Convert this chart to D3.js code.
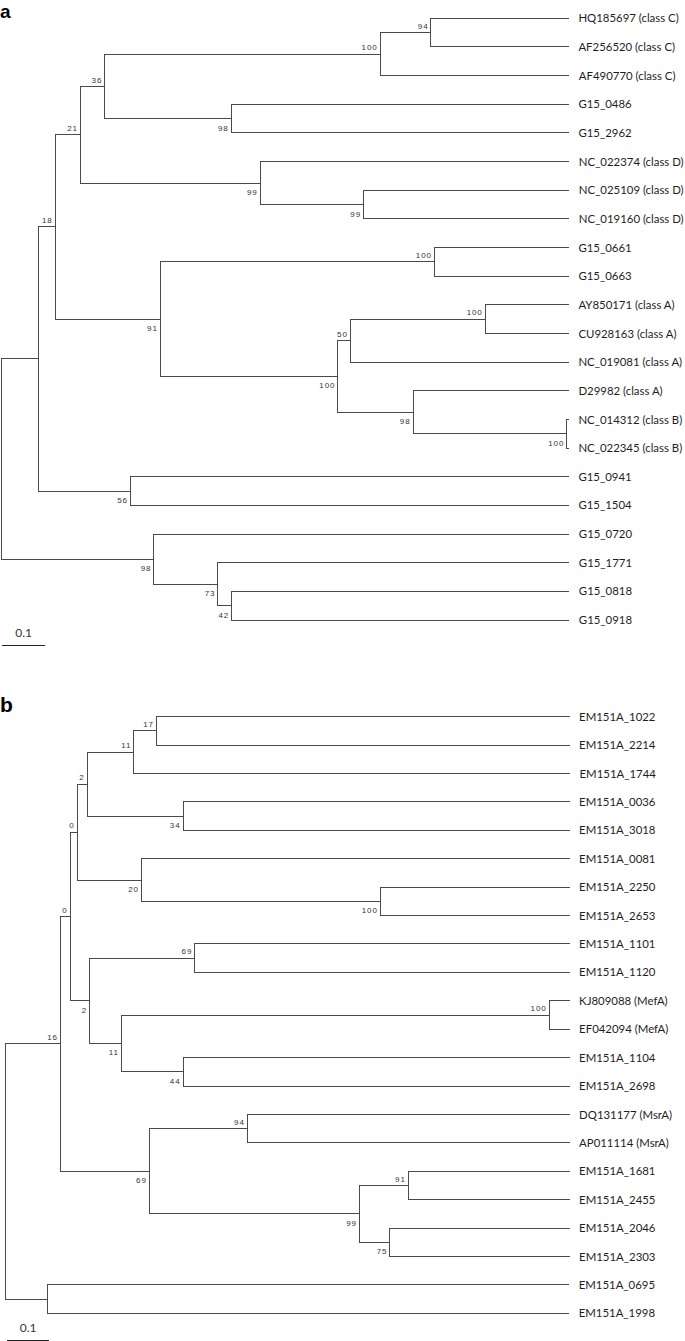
<!DOCTYPE html>
<html>
<head>
<meta charset="utf-8">
<script src="https://cdn.jsdelivr.net/npm/d3@7"></script>
<style>
  html, body { margin: 0; padding: 0; background: #fff; }
  svg { display: block; }
</style>
</head>
<body>
<svg id="chart" width="685" height="1341"></svg>
<script>
// ---- Tree a: [node id, parent id, branch length, bootstrap support] (pre-order, top to bottom)
const treeA = [
  ["rA", "", 0, ""],
  ["a0", "rA", 0.088, ""],
  ["a18", "a0", 0.039, "18"],
  ["a21", "a18", 0.059, "21"],
  ["a36", "a21", 0.057, "36"],
  ["a100c", "a36", 0.645, "100"],
  ["a94", "a100c", 0.119, "94"],
  ["HQ185697 (class C)", "a94", 0.323, ""],
  ["AF256520 (class C)", "a94", 0.323, ""],
  ["AF490770 (class C)", "a100c", 0.443, ""],
  ["a98g", "a36", 0.296, "98"],
  ["G15_0486", "a98g", 0.791, ""],
  ["G15_2962", "a98g", 0.791, ""],
  ["a99d", "a21", 0.421, "99"],
  ["NC_022374 (class D)", "a99d", 0.724, ""],
  ["a99e", "a99d", 0.242, "99"],
  ["NC_025109 (class D)", "a99e", 0.482, ""],
  ["NC_019160 (class D)", "a99e", 0.482, ""],
  ["a91", "a18", 0.246, "91"],
  ["a100g", "a91", 0.642, "100"],
  ["G15_0661", "a100g", 0.315, ""],
  ["G15_0663", "a100g", 0.315, ""],
  ["a100A", "a91", 0.416, "100"],
  ["a50", "a100A", 0.029, "50"],
  ["a100y", "a50", 0.316, "100"],
  ["AY850171 (class A)", "a100y", 0.196, ""],
  ["CU928163 (class A)", "a100y", 0.196, ""],
  ["NC_019081 (class A)", "a50", 0.512, ""],
  ["a98b", "a100A", 0.176, "98"],
  ["D29982 (class A)", "a98b", 0.365, ""],
  ["a100B", "a98b", 0.360, "100"],
  ["NC_014312 (class B)", "a100B", 0.005, ""],
  ["NC_022345 (class B)", "a100B", 0.005, ""],
  ["a56", "a0", 0.215, "56"],
  ["G15_0941", "a56", 1.027, ""],
  ["G15_1504", "a56", 1.027, ""],
  ["a98t", "rA", 0.358, "98"],
  ["G15_0720", "a98t", 0.973, ""],
  ["a73", "a98t", 0.150, "73"],
  ["G15_1771", "a73", 0.823, ""],
  ["a42", "a73", 0.032, "42"],
  ["G15_0818", "a42", 0.791, ""],
  ["G15_0918", "a42", 0.791, ""]
];

// ---- Tree b
const treeB = [
  ["rB", "", 0, ""],
  ["b16", "rB", 0.133, "16"],
  ["b0o", "b16", 0.023, "0"],
  ["b0i", "b0o", 0.017, "0"],
  ["b2", "b0i", 0.024, "2"],
  ["b11", "b2", 0.112, "11"],
  ["b17", "b11", 0.054, "17"],
  ["EM151A_1022", "b17", 0.991, ""],
  ["EM151A_2214", "b17", 0.991, ""],
  ["EM151A_1744", "b11", 1.046, ""],
  ["b34", "b2", 0.230, "34"],
  ["EM151A_0036", "b34", 0.927, ""],
  ["EM151A_3018", "b34", 0.927, ""],
  ["b20", "b0i", 0.154, "20"],
  ["EM151A_0081", "b20", 1.027, ""],
  ["b100a", "b20", 0.573, "100"],
  ["EM151A_2250", "b100a", 0.454, ""],
  ["EM151A_2653", "b100a", 0.454, ""],
  ["b2b", "b0o", 0.047, "2"],
  ["b69a", "b2b", 0.252, "69"],
  ["EM151A_1101", "b69a", 0.899, ""],
  ["EM151A_1120", "b69a", 0.899, ""],
  ["b11b", "b2b", 0.076, "11"],
  ["b100b", "b11b", 1.026, "100"],
  ["KJ809088 (MefA)", "b100b", 0.049, ""],
  ["EF042094 (MefA)", "b100b", 0.049, ""],
  ["b44", "b11b", 0.148, "44"],
  ["EM151A_1104", "b44", 0.927, ""],
  ["EM151A_2698", "b44", 0.927, ""],
  ["b69", "b16", 0.213, "69"],
  ["b94", "b69", 0.235, "94"],
  ["DQ131177 (MsrA)", "b94", 0.773, ""],
  ["AP011114 (MsrA)", "b94", 0.773, ""],
  ["b99", "b69", 0.504, "99"],
  ["b91", "b99", 0.117, "91"],
  ["EM151A_1681", "b91", 0.387, ""],
  ["EM151A_2455", "b91", 0.387, ""],
  ["b75", "b99", 0.073, "75"],
  ["EM151A_2046", "b75", 0.431, ""],
  ["EM151A_2303", "b75", 0.431, ""],
  ["bR", "rB", 0.101, ""],
  ["EM151A_0695", "bR", 1.252, ""],
  ["EM151A_1998", "bR", 1.252, ""]
];

const panelLetters = ["a", "b"];
const scaleBarValue = 0.1;
const scaleBarLabel = "0.1";

const svg = d3.select("#chart");
const LINE = "#4a4a4a";

function drawTree(rows, cfg) {
  const g = svg.append("g");
  const root = d3.stratify().id(d => d[0]).parentId(d => d[1] || null)(rows);
  root.eachBefore(n => { n.dist = n.parent ? n.parent.dist + n.data[2] : 0; });
  d3.cluster().size([1, 1]).separation(() => 1)(root);
  const leaves = root.leaves();
  const y = d3.scaleLinear()
    .domain([leaves[0].x, leaves[leaves.length - 1].x])
    .range([cfg.y0, cfg.y1]);
  const x = d3.scaleLinear().domain([0, scaleBarValue]).range([cfg.x0, cfg.x0 + cfg.unit]);

  // horizontal branches
  g.selectAll("line.h").data(root.descendants().filter(n => n.parent))
    .join("line")
    .attr("x1", n => x(n.parent.dist)).attr("x2", n => x(n.dist))
    .attr("y1", n => y(n.x)).attr("y2", n => y(n.x))
    .attr("stroke", LINE).attr("stroke-width", 1).attr("shape-rendering", "crispEdges");
  // vertical connectors
  g.selectAll("line.v").data(root.descendants().filter(n => n.children))
    .join("line")
    .attr("x1", n => x(n.dist)).attr("x2", n => x(n.dist))
    .attr("y1", n => y(n.children[0].x) - 0.5)
    .attr("y2", n => y(n.children[n.children.length - 1].x) + 0.5)
    .attr("stroke", LINE).attr("stroke-width", 1).attr("shape-rendering", "crispEdges");
  // leaf labels
  g.selectAll("text.leaf").data(leaves)
    .join("text")
    .attr("x", n => x(n.dist) + 9.5)
    .attr("y", n => y(n.x) + 4.1)
    .attr("font-family", "Lato, 'Open Sans', sans-serif")
    .attr("font-size", 11.4)
    .attr("fill", "#1e1e1e")
    .text(n => n.id);
  // bootstrap values
  g.selectAll("text.boot").data(root.descendants().filter(n => n.data[3] !== ""))
    .join("text")
    .attr("x", n => x(n.dist) - 2.5)
    .attr("y", n => {
      const first = n.parent.children[0] === n;
      return first ? y(n.x) - 3.8 : y(n.x) + 12;
    })
    .attr("text-anchor", "end")
    .attr("font-family", "'Liberation Sans', Arial, sans-serif")
    .attr("font-size", 8)
    .attr("letter-spacing", 0.9)
    .attr("fill", "#333")
    .text(n => n.data[3]);
  // scale bar
  const bx = cfg.barX;
  g.append("line")
    .attr("x1", bx).attr("x2", bx + (x(scaleBarValue) - x(0)))
    .attr("y1", cfg.barY).attr("y2", cfg.barY)
    .attr("stroke", "#222").attr("stroke-width", 1).attr("shape-rendering", "crispEdges");
  g.append("text")
    .attr("x", bx + (x(scaleBarValue) - x(0)) / 2)
    .attr("y", cfg.barY - 8.5)
    .attr("text-anchor", "middle")
    .attr("font-family", "Lato, 'Open Sans', sans-serif")
    .attr("font-size", 12)
    .attr("fill", "#333")
    .text(scaleBarLabel);
  // panel letter
  svg.append("text")
    .attr("x", 0).attr("y", cfg.letterY)
    .attr("font-family", "'Liberation Sans', Arial, sans-serif")
    .attr("font-weight", "bold")
    .attr("font-size", cfg.letterSize)
    .attr("fill", "#000")
    .text(cfg.letter);
}

drawTree(treeA, { x0: 1, unit: 42.7, y0: 18.3, y1: 620, barX: 2.3, barY: 645.5, letter: panelLetters[0], letterY: 17.5, letterSize: 19 });
drawTree(treeB, { x0: 5, unit: 41.7, y0: 716.7, y1: 1313.3, barX: 7.3, barY: 1340, letter: panelLetters[1], letterY: 711.5, letterSize: 21 });
</script>
</body>
</html>
